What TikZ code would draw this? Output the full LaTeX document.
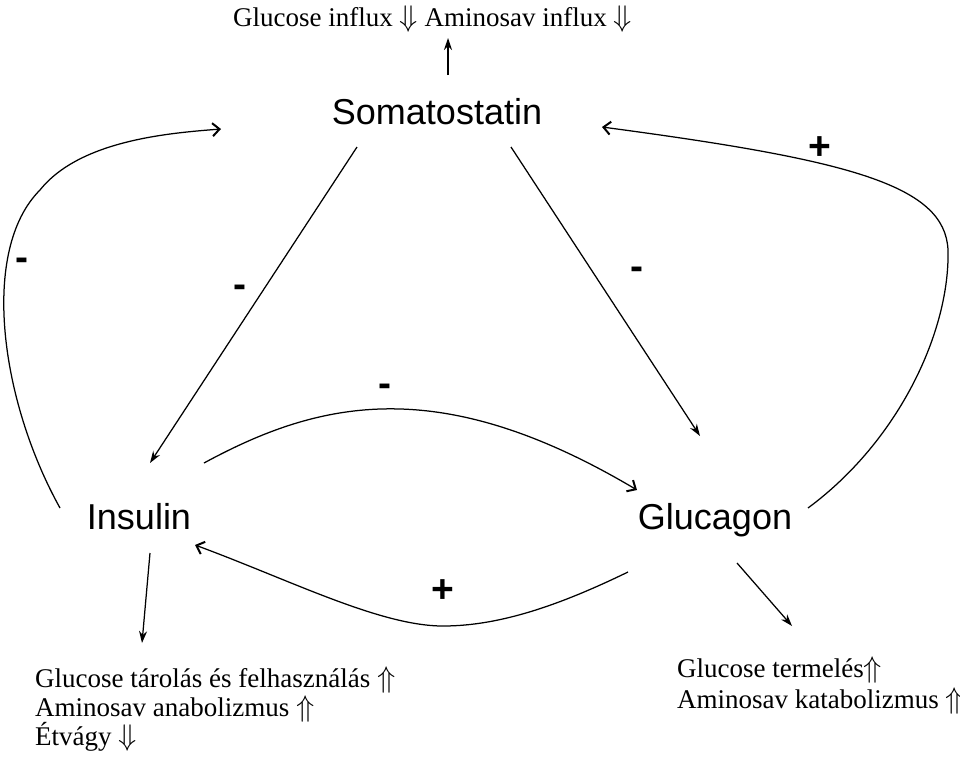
\documentclass[tikz,border=0pt]{standalone}
\usepackage{fontspec}
\setmainfont{Liberation Serif}
\newfontfamily\arialf{Liberation Sans}
\usetikzlibrary{arrows.meta}
\newcommand\myDown{\smash{\raisebox{-0.5pt}{\scalebox{1.2}{$\Downarrow$}}}}
\newcommand\myUp{\smash{\raisebox{-0.5pt}{\scalebox{1.2}{$\Uparrow$}}}}
\begin{document}
\begin{tikzpicture}[x=1pt,y=-1pt,
  hormone/.style={font=\arialf\fontsize{36}{40}\selectfont, inner sep=0pt, anchor=base},
  effect/.style={font=\fontsize{27}{30}\selectfont, inner sep=0pt, anchor=base west},
  sign/.style={font=\arialf\bfseries\fontsize{39}{40}\selectfont, inner sep=0pt, anchor=base},
  conn/.style={line width=1.25pt, -{Stealth[length=12pt,width=8pt]}},
  curv/.style={line width=1.25pt, -{Straight Barb[length=7pt,width=13pt,line width=2pt]}}]
\useasboundingbox (0,0) rectangle (960,758);

% texts
\node[effect] (topfx) at (233,26) {Glucose influx \myDown{} Aminosav influx \myDown};
\node[hormone] (som) at (437,124) {Somatostatin};
\node[hormone] (ins) at (139,529) {Insulin};
\node[hormone] (glu) at (715,529) {Glucagon};
\node[effect] (ie1) at (35,687) {Glucose tárolás és felhasználás \myUp};
\node[effect] (ie2) at (35,716) {Aminosav anabolizmus \myUp};
\node[effect] (ie3) at (35,745) {Étvágy \myDown};
\node[effect] (ge1) at (677,677) {Glucose termelés\myUp};
\node[effect] (ge2) at (677,708) {Aminosav katabolizmus \myUp};

% signs
\node[sign] (m1) at (22,270) {-};
\node[sign] (m2) at (240,297) {-};
\node[sign] (m3) at (637,279) {-};
\node[sign] (m4) at (385,396) {-};
\node[sign] (p1) at (820,159) {+};
\node[sign] (p2) at (443,602) {+};

% connector end points
\coordinate (somUp) at (448,75);
\coordinate (topTip) at (448,38);
\coordinate (somL) at (357,147);
\coordinate (insTop) at (150,463);
\coordinate (somR) at (511,147);
\coordinate (gluTop) at (700,436);
\coordinate (insR) at (204,463);
\coordinate (gluL) at (637,490);
\coordinate (gluLow) at (628,572);
\coordinate (insLow) at (195,545);
\coordinate (insB) at (150,553);
\coordinate (ieTip) at (142,643);
\coordinate (gluB) at (737,563);
\coordinate (geTip) at (792,626);
\coordinate (insLeft) at (60,508);
\coordinate (somLeft) at (221,129);
\coordinate (gluRight) at (808,508);
\coordinate (somRight) at (602,127);

% connectors
\draw[conn] (somUp) -- (topTip);
\draw[conn] (somL) -- (insTop);
\draw[conn] (somR) -- (gluTop);
\draw[conn] (insB) -- (ieTip);
\draw[conn] (gluB) -- (geTip);
\draw[curv] (insR) .. controls (320,400) and (440,373) .. (gluL);
\draw[curv] (gluLow) .. controls (560,605) and (500,626) .. (443,626)
   .. controls (380,626) and (290,580) .. (insLow);
\draw[curv] (insLeft) .. controls (0,400) and (-20,250) .. (40,190)
   .. controls (80,140) and (170,133) .. (somLeft);
\draw[curv] (gluRight) .. controls (900,440) and (950,330) .. (948,250)
   .. controls (945,185) and (850,160) .. (somRight);
\end{tikzpicture}
\end{document}
